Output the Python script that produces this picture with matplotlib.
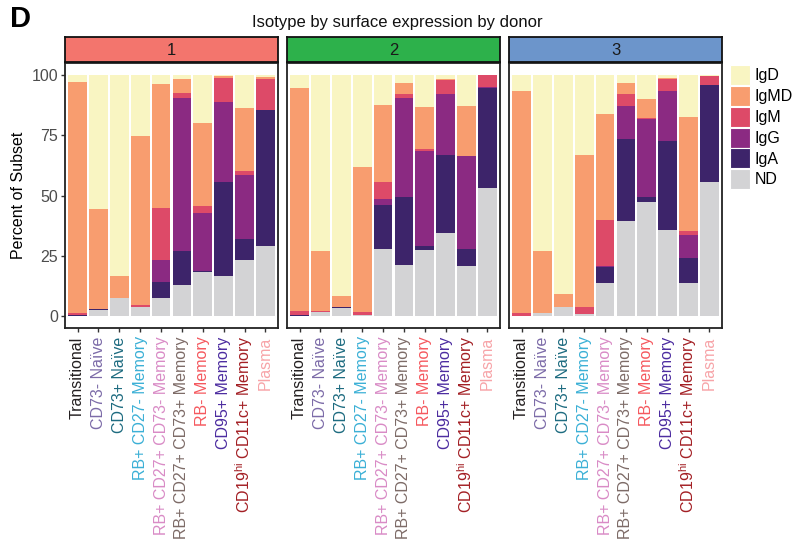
import matplotlib

matplotlib.use("Agg")
import matplotlib.pyplot as plt
from matplotlib.patches import Patch

plt.rcParams["font.family"] = ["Liberation Sans", "DejaVu Sans"]
plt.rcParams["mathtext.fontset"] = "custom"
plt.rcParams["mathtext.rm"] = "Liberation Sans"

subsets = [
    "Transitional",
    "CD73- Naïve",
    "CD73+ Naïve",
    "RB+ CD27- Memory",
    "RB+ CD27+ CD73- Memory",
    "RB+ CD27+ CD73+ Memory",
    "RB- Memory",
    "CD95+ Memory",
    r"CD19$^{\mathrm{hi}}$ CD11c+ Memory",
    "Plasma",
]
subset_colors = [
    "#231F20", "#7C6BA8", "#1D6B80", "#3BB0D6", "#D98BC6",
    "#7D6B67", "#F5585E", "#4C2CA0", "#A31F24", "#F7A4A8",
]

donors = ["1", "2", "3"]
donor_colors = ["#F3756D", "#2DB14B", "#6C95CB"]

isotypes = ["ND", "IgA", "IgG", "IgM", "IgMD", "IgD"]  # stacked bottom -> top
legend_order = ["IgD", "IgMD", "IgM", "IgG", "IgA", "ND"]
isotype_colors = {
    "IgD": "#F9F5C2",
    "IgMD": "#F89D6F",
    "IgM": "#DD4A68",
    "IgG": "#8B2A82",
    "IgA": "#3D246A",
    "ND": "#D3D3D5",
}

# percent of subset, one list per isotype, per donor
donor1 = {
    "ND":   [0, 2.3, 7.6, 3.6, 7.6, 12.9, 18.3, 16.6, 23.2, 29.0],
    "IgA":  [0.4, 0.4, 0, 0, 6.6, 14.1, 0.4, 38.8, 8.7, 56.6],
    "IgG":  [0, 0, 0, 0, 9.0, 63.5, 23.9, 33.5, 26.8, 0],
    "IgM":  [1.0, 0.1, 0, 1.1, 21.5, 2.1, 2.9, 10.0, 1.3, 12.7],
    "IgMD": [95.7, 41.5, 9.0, 70.1, 51.6, 5.7, 34.7, 0.7, 26.4, 0.9],
    "IgD":  [2.9, 55.7, 83.4, 25.2, 3.7, 1.7, 19.8, 0.4, 13.6, 0.8],
}
donor2 = {
    "ND":   [0, 1.5, 3.2, 0.6, 27.8, 21.2, 27.4, 34.4, 20.8, 53.0],
    "IgA":  [0.4, 0, 0.4, 0, 18.1, 28.0, 1.6, 32.6, 7.0, 41.6],
    "IgG":  [0, 0, 0, 0, 2.5, 41.3, 39.6, 25.2, 38.4, 0.6],
    "IgM":  [1.8, 0.4, 0, 0.9, 7.0, 1.7, 0.5, 5.7, 0, 4.8],
    "IgMD": [92.4, 25.1, 4.8, 60.5, 32.2, 4.5, 17.7, 0.6, 21.0, 0],
    "IgD":  [5.4, 73.0, 91.6, 38.0, 12.4, 3.3, 13.2, 1.5, 12.8, 0],
}
donor3 = {
    "ND":   [0, 1.4, 3.9, 1.0, 13.8, 39.3, 47.2, 35.6, 13.8, 55.8],
    "IgA":  [0, 0, 0, 0, 6.6, 34.3, 2.0, 37.2, 10.3, 40.1],
    "IgG":  [0, 0, 0, 0, 0.4, 13.6, 32.6, 20.6, 9.5, 0],
    "IgM":  [1.4, 0, 0, 2.9, 19.0, 5.0, 0.5, 4.9, 1.6, 3.7],
    "IgMD": [92.0, 25.6, 5.3, 63.1, 44.1, 4.5, 7.8, 0.6, 47.5, 0],
    "IgD":  [6.6, 73.0, 90.8, 33.0, 16.1, 3.3, 9.9, 1.1, 17.3, 0.4],
}
donor_data = [donor1, donor2, donor3]

W, H = 794, 540
fig = plt.figure(figsize=(W / 100, H / 100), dpi=100)

panel_left = [65, 287, 509]
panel_w = 213
panel_top, panel_bottom = 63, 328
strip_top = 37

x = list(range(1, len(subsets) + 1))
for i, (donor, data) in enumerate(zip(donors, donor_data)):
    ax = fig.add_axes([panel_left[i] / W, 1 - panel_bottom / H,
                       panel_w / W, (panel_bottom - panel_top) / H])
    bottom = [0.0] * len(x)
    for iso in isotypes:
        vals = data[iso]
        ax.bar(x, vals, width=0.9, bottom=bottom, color=isotype_colors[iso],
               linewidth=0)
        bottom = [b + v for b, v in zip(bottom, vals)]
    ax.set_xlim(0.4, 10.6)
    ax.set_ylim(-5, 105)
    for sp in ax.spines.values():
        sp.set_linewidth(1.3)
        sp.set_color("#222222")
    ax.set_xticks(x)
    ax.set_xticklabels(subsets, rotation=90, fontsize=11.5, va="top", ha="center")
    for lbl, c in zip(ax.get_xticklabels(), subset_colors):
        lbl.set_color(c)
    ax.tick_params(axis="x", length=3, width=1, color="#333333", pad=3)
    if i == 0:
        ax.set_yticks([0, 25, 50, 75, 100])
        ax.tick_params(axis="y", length=3, width=1, color="#333333",
                       labelsize=11.5, labelcolor="#4D4D4D", pad=2)
        ax.set_ylabel("Percent of Subset", fontsize=11.5, labelpad=4)
    else:
        ax.set_yticks([])

    # facet strip
    sax = fig.add_axes([panel_left[i] / W, 1 - (panel_top - 1) / H,
                        panel_w / W, (panel_top - 1 - strip_top) / H])
    sax.set_facecolor(donor_colors[i])
    sax.set_xticks([])
    sax.set_yticks([])
    for sp in sax.spines.values():
        sp.set_linewidth(1.3)
        sp.set_color("#111111")
    sax.text(0.5, 0.45, donor, ha="center", va="center", fontsize=12,
             color="#1A1A1A", transform=sax.transAxes)

fig.text(397 / W, 1 - 22 / H, "Isotype by surface expression by donor",
         ha="center", va="center", fontsize=12, color="#111111")
fig.text(10 / W, 1 - 5 / H, "D", ha="left", va="top", fontsize=21,
         fontweight="bold")

handles = [Patch(facecolor=isotype_colors[k], edgecolor="white", linewidth=0.8)
           for k in legend_order]
fig.legend(handles, legend_order,
           loc="upper left", bbox_to_anchor=(727 / W, 1 - 62 / H),
           frameon=False, fontsize=11.5, handlelength=1.25, handleheight=1.55,
           handletextpad=0.3, labelspacing=0.05, borderaxespad=0,
           borderpad=0.2)

fig.savefig("out.png", dpi=100)
